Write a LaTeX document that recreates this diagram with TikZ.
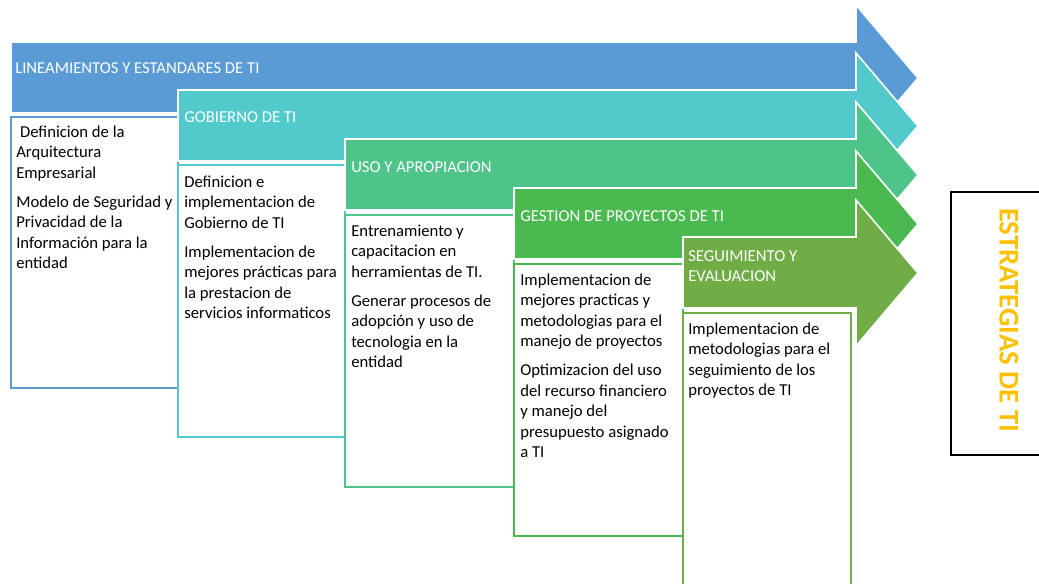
\documentclass[tikz,border=0pt]{standalone}
\usepackage{fontspec}
\setmainfont{Carlito}
\definecolor{cblue}{HTML}{5B9BD5}
\definecolor{cteal}{HTML}{52CACB}
\definecolor{cmint}{HTML}{4EC48B}
\definecolor{cgreen}{HTML}{4AB94F}
\definecolor{colive}{HTML}{70AD47}
\definecolor{corange}{HTML}{FFC000}

\begin{document}
\begin{tikzpicture}[x=0.75pt,y=-0.75pt,
        band/.style={draw=white, line width=1.2pt},
        card/.style={fill=white, line width=1.5pt},
        head/.style={anchor=base west, inner sep=0pt, text=white, align=left,
            font=\fontsize{12.5}{15}\selectfont},
        body/.style={anchor=north west, inner sep=0pt, align=left,
            font=\fontsize{12.5}{15.3}\selectfont}]
        \useasboundingbox (0,0) rectangle (1039,583);

        \coordinate (A) at (11,42);
        \coordinate (B) at (178,90);
        \coordinate (C) at (345,139);
        \coordinate (D) at (514,188);
        \coordinate (E) at (683,237);

        \fill[band, fill=cblue] (A) -- (856,42) -- (856,5) -- (918,78) -- (856,151) -- (856,113) -- (11,113) -- cycle;
        \draw[card, draw=cblue] (11,117) rectangle (178,388);

        \fill[band, fill=cteal] (B) -- (856,90) -- (856,53) -- (918,126) -- (856,199) -- (856,161) -- (178,161) -- cycle;
        \draw[card, draw=cteal] (178,165) rectangle (345,437);

        \fill[band, fill=cmint] (C) -- (856,139) -- (856,102) -- (918,175) -- (856,248) -- (856,210) -- (345,210) -- cycle;
        \draw[card, draw=cmint] (345,215) rectangle (514,487);

        \fill[band, fill=cgreen] (D) -- (856,188) -- (856,151) -- (918,224) -- (856,297) -- (856,259) -- (514,259) -- cycle;
        \draw[card, draw=cgreen] (514,264) rectangle (683,536);

        \fill[band, fill=colive] (E) -- (856,237) -- (856,200) -- (918,273) -- (856,346) -- (856,308) -- (683,308) -- cycle;
        \draw[card, draw=colive] (683,313) rectangle (851,595);

        \node[head] (hLin) at (15,73) {LINEAMIENTOS Y ESTANDARES DE TI};
        \node[head] (hGob) at (184,122) {GOBIERNO DE TI};
        \node[head] (hUso) at (351,172) {USO Y APROPIACION};
        \node[head] (hGes) at (520,221) {GESTION DE PROYECTOS DE TI};
        \node[head] (hSeg) at (688,281) {SEGUIMIENTO Y\\EVALUACION};

        \node[body] (tLin) at (16,123) {\strut\ Definicion de la\\Arquitectura\\Empresarial\\[6.5pt]
            Modelo de Seguridad y\\Privacidad de la\\Información para la\\entidad};
        \node[body] (tGob) at (184,173) {\strut Definicion e\\implementacion de\\Gobierno de TI\\[6.5pt]
            Implementacion de\\mejores prácticas para\\la prestacion de\\servicios informaticos};
        \node[body] (tUso) at (351,222) {\strut Entrenamiento y\\capacitacion en\\herramientas de TI.\\[6.5pt]
            Generar procesos de\\adopción y uso de\\tecnologia en la\\entidad};
        \node[body] (tGes) at (520,271) {\strut Implementacion de\\mejores practicas y\\metodologias para el\\manejo de proyectos\\[6.5pt]
            Optimizacion del uso\\del recurso financiero\\y manejo del\\presupuesto asignado\\a TI};
        \node[body] (tSeg) at (688,320) {\strut Implementacion de\\metodologias para el\\seguimiento de los\\proyectos de TI};

        \draw[black, line width=0.8pt] (1045,192) -- (951,192) -- (951,455) -- (1045,455);
        \node[rotate=-90, text=corange, font=\fontsize{21.5}{24}\selectfont\bfseries] (title) at (1009,320) {ESTRATEGIAS DE TI};

    \end{tikzpicture}
\end{document}
